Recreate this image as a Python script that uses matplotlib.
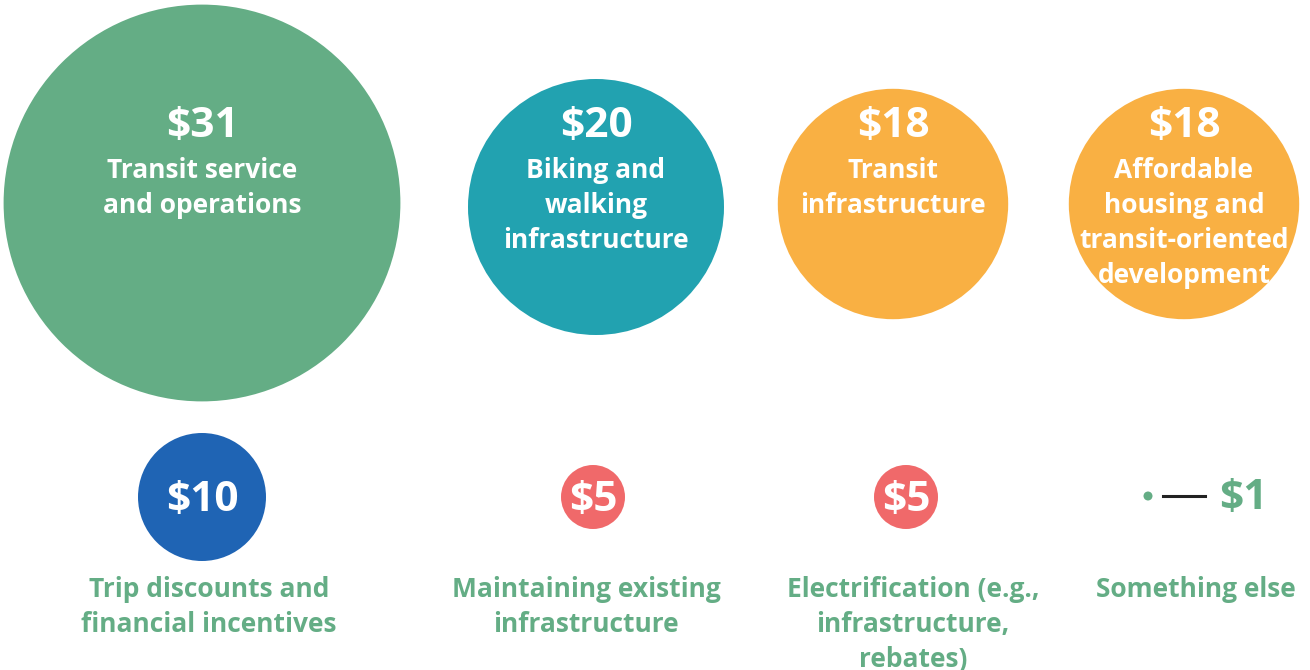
import matplotlib.pyplot as plt
from matplotlib.patches import Circle

plt.rcParams['font.family'] = ['Open Sans', 'DejaVu Sans']

# data
top_values = [31, 20, 18, 18]
top_labels = ["Transit service\nand operations", "Biking and\nwalking\ninfrastructure",
              "Transit\ninfrastructure", "Affordable\nhousing and\ntransit-oriented\ndevelopment"]
top_colors = ["#64AD85", "#22A2B0", "#F9B043", "#F9B043"]

bottom_values = [10, 5, 5, 1]
bottom_labels = ["Trip discounts and\nfinancial incentives", "Maintaining existing\ninfrastructure",
                 "Electrification (e.g.,\ninfrastructure,\nrebates)", "Something else"]
bottom_colors = ["#1F64B4", "#F0696A", "#F0696A", "#64AD85"]

# layout (pixels)
top_x = [202, 596, 893, 1184]
top_y = [203, 207, 204, 204]
bot_x = [202, 593, 906, 1148]
bot_label_x = [209, 586, 913, 1196]
bot_y = 497
scale = 6.4  # px of radius per dollar

fig = plt.figure(figsize=(13.1, 6.7), dpi=100)
ax = fig.add_axes([0, 0, 1, 1])
ax.set_xlim(0, 1310)
ax.set_ylim(670, 0)
ax.set_aspect('equal')
ax.axis('off')

for x, y, v, lab, c in zip(top_x, top_y, top_values, top_labels, top_colors):
    ax.add_patch(Circle((x, y), v * scale, color=c, lw=0))
    ax.text(x, 127, f"${v}", ha='center', va='center', color='white',
            fontsize=30.5, fontweight='bold')
    ax.text(x, 157, lab, ha='center', va='top', color='white',
            fontsize=19, fontweight='bold', linespacing=1.38)

green = "#64AD85"
for i, (x, v, lab, c) in enumerate(zip(bot_x, bottom_values, bottom_labels, bottom_colors)):
    r = v * scale
    if v >= 5:
        ax.add_patch(Circle((x, bot_y), r, color=c, lw=0))
        ax.text(x, bot_y + 3, f"${v}", ha='center', va='center', color='white',
                fontsize=30.5, fontweight='bold')
    else:
        ax.add_patch(Circle((x, bot_y - 1), 4.5, color=c, lw=0))
        ax.plot([x + 15, x + 57], [bot_y - 1, bot_y - 1], color='#222222', lw=2.2)
        ax.text(x + 71, bot_y + 2, f"${v}", ha='left', va='center', color=green,
                fontsize=30.5, fontweight='bold')
    ax.text(bot_label_x[i], 576, lab, ha='center', va='top', color=green,
            fontsize=19, fontweight='bold', linespacing=1.38)

fig.savefig("out.png", dpi=100)
